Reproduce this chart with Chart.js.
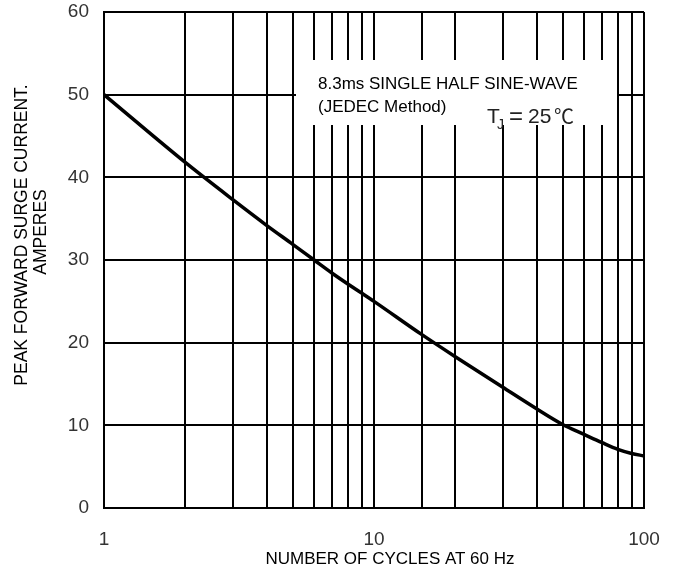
<!DOCTYPE html>
<html>
<head>
<meta charset="utf-8">
<script src="https://cdn.jsdelivr.net/npm/chart.js@4.4.1/dist/chart.umd.min.js"></script>
<style>
  html, body { margin: 0; padding: 0; background: #fff; }
</style>
</head>
<body>
<canvas id="myChart" width="676" height="576"></canvas>
<script>
// numero de ciclos a 60 Hz (eje log)
const ciclos = [1, 2, 3, 4, 5, 6, 7, 8, 9, 10, 15, 20, 30, 40, 50, 60, 70, 80, 90, 100];
// corriente pico (amperes)
const corriente = [50, 41.8, 37.3, 34.2, 31.9, 30.0, 28.4, 27.1, 26.0, 25.0, 21.0, 18.3, 14.6, 12.0, 10.1, 8.9, 7.9, 7.1, 6.6, 6.3];
const xLabels = [1, 10, 100];
const yMin = 0, yMax = 60, yPaso = 10;
const tituloY = ["PEAK FORWARD SURGE CURRENT.", "AMPERES"];
const tituloX = "NUMBER OF CYCLES AT 60 Hz";
const nota = ["8.3ms SINGLE HALF SINE-WAVE", "(JEDEC Method)"];
const notaTj = ["T", "J", "=", "25", "℃"];

const fuente = '"Liberation Sans", Arial, "Noto Sans CJK JP", sans-serif';

// textos sueltos: recuadro blanco, nota y titulos de ejes
const textos = {
    id: 'textos',
    beforeDatasetsDraw(chart) {
        const ctx = chart.ctx;
        ctx.save();
        ctx.fillStyle = '#fff';
        ctx.fillRect(296, 60, 321, 65);
        ctx.fillStyle = '#000';
        ctx.textBaseline = 'alphabetic';
        ctx.font = '17px ' + fuente;
        ctx.fillText(nota[0], 318, 89);
        ctx.fillText(nota[1], 318, 112);
        ctx.fillStyle = '#222';
        ctx.font = '21px ' + fuente;
        ctx.fillText(notaTj[0], 487, 123);
        ctx.font = '14px ' + fuente;
        ctx.fillText(notaTj[1], 497, 129);
        ctx.font = '24px ' + fuente;
        ctx.fillText(notaTj[2], 509, 124);
        ctx.font = '21px ' + fuente;
        ctx.fillText(notaTj[3], 528, 123);
        ctx.font = '20px "Noto Sans CJK JP", ' + fuente;
        ctx.fillText(notaTj[4], 554, 124);
        ctx.restore();
    },
    afterDraw(chart) {
        const ctx = chart.ctx;
        ctx.save();
        ctx.fillStyle = '#000';
        ctx.textAlign = 'center';
        ctx.textBaseline = 'middle';
        ctx.font = '17.5px ' + fuente;
        ctx.translate(22, 235);
        ctx.rotate(-Math.PI / 2);
        ctx.fillText(tituloY[0], 0, 0);
        ctx.restore();

        ctx.save();
        ctx.fillStyle = '#000';
        ctx.textAlign = 'center';
        ctx.textBaseline = 'middle';
        ctx.font = '17.5px ' + fuente;
        ctx.translate(41, 232);
        ctx.rotate(-Math.PI / 2);
        ctx.fillText(tituloY[1], 0, 0);
        ctx.restore();

        ctx.save();
        ctx.fillStyle = '#000';
        ctx.textAlign = 'center';
        ctx.textBaseline = 'middle';
        ctx.font = '17px ' + fuente;
        ctx.fillText(tituloX, 390, 559);
        ctx.restore();
    }
};

const puntos = ciclos.map((c, i) => ({ x: c, y: corriente[i] }));

const ctx = document.getElementById("myChart");
const myChart = new Chart(ctx, {
    type: 'line',
    data: {
        datasets: [{
            data: puntos,
            borderColor: '#000',
            borderWidth: 3.5,
            pointRadius: 0,
            cubicInterpolationMode: 'monotone',
            fill: false
        }]
    },
    options: {
        responsive: false,
        animation: false,
        layout: { padding: { top: 12, right: 32, left: 0, bottom: 0 } },
        plugins: {
            legend: { display: false },
            tooltip: { enabled: false }
        },
        scales: {
            x: {
                type: 'logarithmic',
                min: 1,
                max: 100,
                grid: { color: '#000', lineWidth: 2, drawTicks: false },
                border: { color: '#000', width: 2 },
                ticks: {
                    autoSkip: false,
                    maxRotation: 0,
                    padding: 20,
                    color: '#333',
                    font: { family: fuente, size: 19 },
                    callback: (v) => xLabels.includes(v) ? String(v) : ''
                },
                afterFit: (s) => { s.height = 68; s.paddingLeft = 0; s.paddingRight = 0; }
            },
            y: {
                min: yMin,
                max: yMax,
                grid: { color: '#000', lineWidth: 2, drawTicks: false },
                border: { color: '#000', width: 2 },
                ticks: {
                    stepSize: yPaso,
                    padding: 15,
                    color: '#333',
                    font: { family: fuente, size: 19 }
                },
                afterFit: (s) => { s.width = 104; s.paddingTop = 0; s.paddingBottom = 0; }
            }
        }
    },
    plugins: [textos]
});
</script>
</body>
</html>
